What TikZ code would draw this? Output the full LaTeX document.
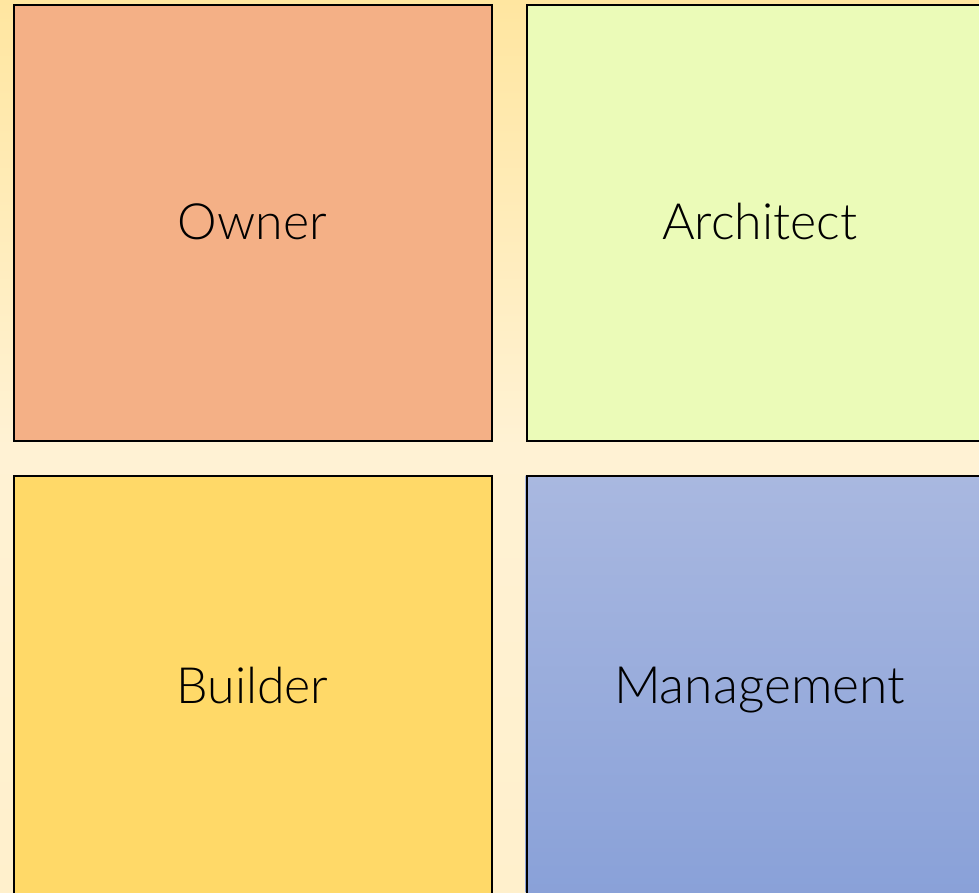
\documentclass[tikz,border=0pt]{standalone}
\usepackage{fontspec}
\setmainfont{Lato}[UprightFont=*-Light]
\begin{document}
\begin{tikzpicture}[x=1pt,y=-1pt,
  box/.style={draw=black,line width=2pt,inner sep=0pt,anchor=north west,minimum width=478pt,minimum height=436pt},
  lbl/.style={font=\fontsize{50}{60}\selectfont,anchor=base,inner sep=0pt}]
\useasboundingbox (0,0) rectangle (979,892);
\shade[top color={rgb,255:red,255;green,230;blue,160}, bottom color={rgb,255:red,255;green,240;blue,204}, middle color={rgb,255:red,255;green,242;blue,212}] (0,0) rectangle (979,892);
\begin{scope}
\clip (0,0) rectangle (979,892);
\node[box,fill={rgb,255:red,244;green,176;blue,134}] (owner) at (12.5,4) {};
\node[lbl,yshift=-16pt] at (owner.center) (ownert) {Owner};
\node[box,fill={rgb,255:red,235;green,251;blue,184}] (arch) at (525.5,4) {};
\node[lbl,xshift=-6pt,yshift=-16pt] at (arch.center) (archt) {Architect};
\node[box,fill={rgb,255:red,255;green,217;blue,104}] (build) at (12.5,475) {};
\node[lbl,yshift=-9pt] at (build.center) (buildt) {Builder};
\shade[top color={rgb,255:red,169;green,184;blue,224}, bottom color={rgb,255:red,136;green,160;blue,216}] (525.5,475) rectangle (1003.5,911);
\node[box] (mgmt) at (525.5,475) {};
\node[lbl,xshift=-6pt,yshift=-9pt,font=\fontsize{51.5}{60}\selectfont] at (mgmt.center) (mgmtt) {Management};
\end{scope}
\end{tikzpicture}
\end{document}
